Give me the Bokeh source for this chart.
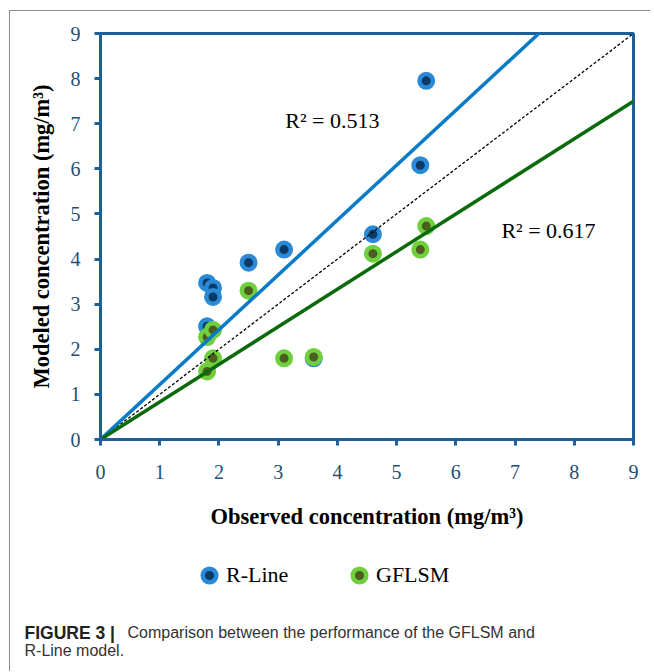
from bokeh.plotting import figure
from bokeh.layouts import column, row
from bokeh.models import Label, Legend, LegendItem, Range1d, Spacer
from bokeh.embed import file_html
from bokeh.resources import INLINE

# ---- data ----
observed_rline = [1.8, 1.9, 1.9, 2.5, 3.1, 1.8, 3.6, 4.6, 5.4, 5.5]
modeled_rline = [3.47, 3.36, 3.16, 3.92, 4.21, 2.51, 1.80, 4.55, 6.08, 7.95]
observed_gflsm = [1.8, 1.9, 1.8, 1.9, 2.5, 3.1, 3.6, 4.6, 5.4, 5.5]
modeled_gflsm = [1.51, 1.80, 2.27, 2.43, 3.30, 1.80, 1.83, 4.12, 4.21, 4.73]
rline_slope = 1.216
gflsm_slope = 0.833
rline_r2 = "R² = 0.513"
gflsm_r2 = "R² = 0.617"
series_names = ["R-Line", "GFLSM"]
ticks = [0, 1, 2, 3, 4, 5, 6, 7, 8, 9]
line_x = [0, 9]

AXIS = "#1f5f99"
TICKLBL = "#1f4e79"
SERIF = "Liberation Serif"
CAP = "Liberation Sans"
GRAY = "#8c8c8c"
BLUE_RING, BLUE_CORE = "#2a8ad6", "#0b3a66"
GREEN_RING, GREEN_CORE = "#6fcf3c", "#4b5e20"


def blank(w, h, fill="white"):
    f = figure(width=w, height=h, output_backend="svg", toolbar_location=None, title=None,
               x_axis_type=None, y_axis_type=None, x_range=Range1d(0, w), y_range=Range1d(0, h),
               min_border=0, min_border_left=0, min_border_right=0, min_border_top=0,
               min_border_bottom=0)
    f.outline_line_color = None
    f.background_fill_color = fill
    f.border_fill_color = fill
    return f


# ---------------- main chart ----------------
p = figure(width=640, height=534, output_backend="svg", toolbar_location=None,
           x_range=Range1d(0, 9), y_range=Range1d(0, 9),
           min_border_left=90, min_border_right=17, min_border_top=22, min_border_bottom=106)
p.grid.visible = False
p.outline_line_color = AXIS
p.outline_line_width = 3
p.background_fill_color = "white"
p.border_fill_color = "white"

for ax in (p.xaxis[0], p.yaxis[0]):
    ax.ticker = ticks
    ax.axis_line_color = AXIS
    ax.axis_line_width = 3
    ax.major_tick_line_color = AXIS
    ax.major_tick_line_width = 3
    ax.major_tick_out = 6
    ax.major_tick_in = 0
    ax.minor_tick_line_color = None
    ax.major_label_text_font = SERIF
    ax.major_label_text_font_size = "20px"
    ax.major_label_text_color = TICKLBL
    ax.axis_label_text_font = SERIF
    ax.axis_label_text_font_size = "22.5px"
    ax.axis_label_text_font_style = "bold"
    ax.axis_label_text_color = "black"

p.xaxis.axis_label = "Observed concentration (mg/m³)"
p.yaxis.axis_label = "Modeled concentration (mg/m³)"
p.xaxis.major_label_standoff = 19
p.yaxis.major_label_standoff = 14
p.xaxis.axis_label_standoff = 22
p.yaxis.axis_label_standoff = 14

p.scatter(observed_rline, modeled_rline, size=13.5, fill_color=BLUE_CORE,
          line_color=BLUE_RING, line_width=4.5)
p.scatter(observed_gflsm, modeled_gflsm, size=13.5, fill_color=GREEN_CORE,
          line_color=GREEN_RING, line_width=4.5)

p.line(line_x, line_x, line_color="black", line_width=1.3, line_dash="3 2")
p.line(line_x, [rline_slope * v for v in line_x], line_color="#0a7bc8", line_width=3.5)
p.line(line_x, [gflsm_slope * v for v in line_x], line_color="#0b6b0b", line_width=3.5)

p.add_layout(Label(x=3.12, y=7.07, text=rline_r2, text_font=SERIF, text_font_size="22px",
                   text_baseline="middle", text_color="black"))
p.add_layout(Label(x=6.77, y=4.63, text=gflsm_r2, text_font=SERIF, text_font_size="22px",
                   text_baseline="middle", text_color="black"))

# ---------------- legend + caption strip ----------------
q = blank(640, 125)

# legend proxies (kept outside the visible range)
leg_blue = q.scatter(x=[-1000], y=[-1000], size=13.5, fill_color=BLUE_CORE,
                     line_color=BLUE_RING, line_width=4.5)
leg_green = q.scatter(x=[-1000], y=[-1000], size=13.5, fill_color=GREEN_CORE,
                      line_color=GREEN_RING, line_width=4.5)

for rend, name, lx in ((leg_blue, series_names[0], 182), (leg_green, series_names[1], 332)):
    leg = Legend(items=[LegendItem(label=name, renderers=[rend])], location=(lx, 78),
                 glyph_width=34, glyph_height=34, label_standoff=0, padding=0, margin=0,
                 border_line_color=None, background_fill_alpha=0,
                 label_text_font=SERIF, label_text_font_size="22px", label_text_color="black")
    q.add_layout(leg)

q.add_layout(Label(x=14, y=38, x_units="screen", y_units="screen", text="FIGURE 3 |",
                   text_font=CAP, text_font_size="17.5px", text_font_style="bold",
                   text_baseline="middle", text_color="#222222"))
q.add_layout(Label(x=117, y=38, x_units="screen", y_units="screen",
                   text="Comparison between the performance of the GFLSM and",
                   text_font=CAP, text_font_size="16px",
                   text_baseline="middle", text_color="#333333"))
q.add_layout(Label(x=14, y=20, x_units="screen", y_units="screen",
                   text="R-Line model.",
                   text_font=CAP, text_font_size="16px",
                   text_baseline="middle", text_color="#333333"))

# ---------------- thin gray page frame (top and left edges) ----------------
vline = Spacer(width=1, height=661, margin=(10, 0, 0, 9), styles={"background-color": GRAY})
hline = Spacer(width=640, height=1, margin=(10, 0, 0, 0), styles={"background-color": GRAY})

layout = row(column(vline), column(row(hline), row(p), row(q), spacing=0), spacing=0)
open("out.html", "w").write(file_html(layout, INLINE))
